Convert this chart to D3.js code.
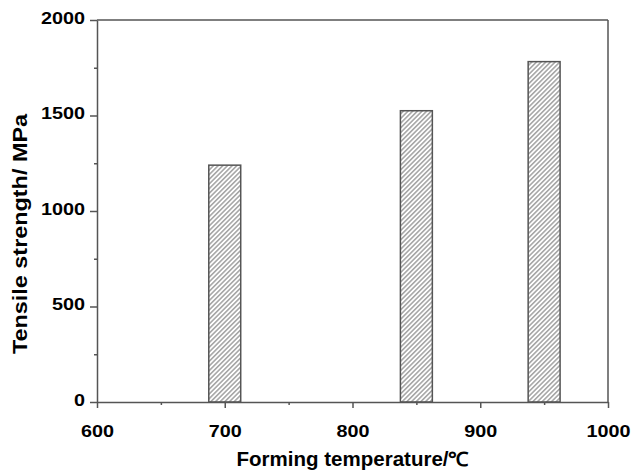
<!DOCTYPE html>
<html><head><meta charset="utf-8">
<script src="https://cdn.jsdelivr.net/npm/d3@7"></script>
<style>
html,body{margin:0;padding:0;background:#fff;}
svg{display:block;}
text{font-family:"Liberation Sans",Arial,sans-serif;font-weight:bold;fill:#000;}
</style></head>
<body>
<script>
const temperatures = [700, 850, 950];
const strengths = [1240, 1525, 1782];
const xTicks = [600, 700, 800, 900, 1000];
const yTicks = [0, 500, 1000, 1500, 2000];
const xTitle = "Forming temperature/\u2103";
const yTitle = "Tensile strength/ MPa";

const W = 635, H = 472;
const m = {left: 97, right: 27, top: 20, bottom: 70};
const svg = d3.select("body").append("svg").attr("width", W).attr("height", H);

const x = d3.scaleLinear().domain([600, 1000]).range([m.left, W - m.right]);
const y = d3.scaleLinear().domain([0, 2000]).range([H - m.bottom, m.top]);
const barW = 25;
const axisCol = "#555";

const defs = svg.append("defs");
const pat = defs.append("pattern").attr("id", "hatch")
  .attr("patternUnits", "userSpaceOnUse").attr("width", 3.3).attr("height", 3.3)
  .attr("patternTransform", "rotate(45)");
pat.append("rect").attr("width", 3.3).attr("height", 3.3).attr("fill", "#fff");
pat.append("line").attr("x1", 0.8).attr("y1", 0).attr("x2", 0.8).attr("y2", 3.3)
  .attr("stroke", "#8a8a8a").attr("stroke-width", 1.2);

// bars
svg.append("g").selectAll("rect").data(temperatures).join("rect")
  .attr("x", d => x(d - barW / 2))
  .attr("width", d => x(d + barW / 2) - x(d - barW / 2))
  .attr("y", (d, i) => y(strengths[i]))
  .attr("height", (d, i) => y(0) - y(strengths[i]))
  .attr("fill", "url(#hatch)")
  .attr("stroke", "#555").attr("stroke-width", 1.5);

// frame top & right
svg.append("line").attr("x1", x(600)).attr("x2", x(1000)).attr("y1", y(2000)).attr("y2", y(2000))
  .attr("stroke", axisCol).attr("stroke-width", 1.5);
svg.append("line").attr("x1", x(1000)).attr("x2", x(1000)).attr("y1", y(2000)).attr("y2", y(0))
  .attr("stroke", axisCol).attr("stroke-width", 1.5);

// minor ticks
const xMinor = d3.axisBottom(x).tickValues([650, 750, 850, 950]).tickSize(3).tickFormat("");
const yMinor = d3.axisLeft(y).tickValues([250, 750, 1250, 1750]).tickSize(3).tickFormat("");
const gxm = svg.append("g").attr("transform", `translate(0,${y(0)})`).call(xMinor);
const gym = svg.append("g").attr("transform", `translate(${x(600)},0)`).call(yMinor);
[gxm, gym].forEach(g => { g.select(".domain").remove(); g.selectAll("line").attr("stroke", axisCol).attr("stroke-width", 1.5); });

// major axes
const gx = svg.append("g").attr("transform", `translate(0,${y(0)})`)
  .call(d3.axisBottom(x).tickValues(xTicks).tickSize(6).tickSizeOuter(0).tickPadding(17).tickFormat(d3.format("d")));
const gy = svg.append("g").attr("transform", `translate(${x(600)},0)`)
  .call(d3.axisLeft(y).tickValues(yTicks).tickSize(7).tickSizeOuter(0).tickPadding(5).tickFormat(d3.format("d")));
[gx, gy].forEach(g => {
  g.select(".domain").attr("stroke", axisCol).attr("stroke-width", 1.5);
  g.selectAll(".tick line").attr("stroke", axisCol).attr("stroke-width", 1.5);
  g.selectAll("text").attr("font-size", 16.5).attr("font-family", null)
    .attr("textLength", d => String(d).length * 11).attr("lengthAdjust", "spacingAndGlyphs");
});
gy.selectAll("text").attr("dy", "0.2em");

// titles
svg.append("text").attr("x", (x(600) + x(1000)) / 2).attr("y", 466)
  .attr("text-anchor", "middle").attr("font-size", 19.5)
  .attr("textLength", 232).attr("lengthAdjust", "spacingAndGlyphs").text(xTitle);
svg.append("text").attr("transform", `translate(27,${234}) rotate(-90)`)
  .attr("text-anchor", "middle").attr("font-size", 19.5)
  .attr("textLength", 240).attr("lengthAdjust", "spacingAndGlyphs").text(yTitle);
</script>
</body></html>
